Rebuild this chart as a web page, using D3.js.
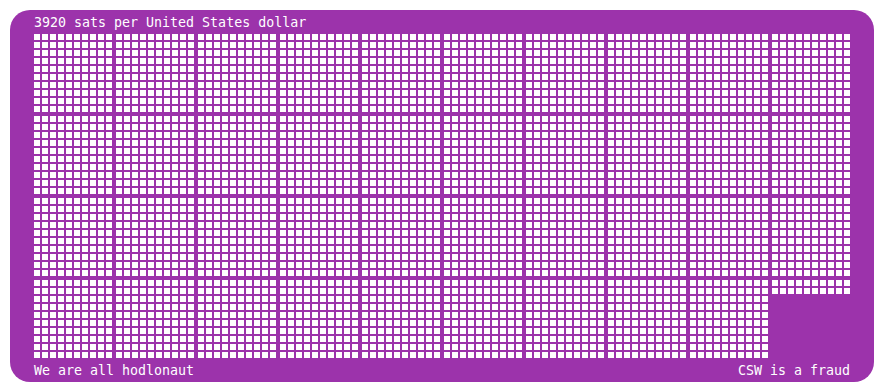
<!DOCTYPE html>
<html>
<head>
<meta charset="utf-8">
<script src="https://cdn.jsdelivr.net/npm/d3@7"></script>
<style>
  body { margin: 0; background: #fff; }
  text { font-family: 'DejaVu Sans Mono', monospace; font-size: 13.3px; fill: #fff; }
</style>
</head>
<body>
<div id="wrapper"></div>
<script>
// sats per dollar, drawn as blocks of 100
const satsPerDollar = [3920];
const blockRowIds = [0, 1, 2, 3];
const blockColIds = [0, 1, 2, 3, 4, 5, 6, 7, 8, 9];
const cellIds = [0, 1, 2, 3, 4, 5, 6, 7, 8, 9];
const titleText = ['3920 sats per United States dollar'];
const footerLeft = ['We are all hodlonaut'];
const footerRight = ['CSW is a fraud'];

function drawSats() {
  let dimensions = {
    width: 884,
    height: 392,
    margins: { top: 34, right: 34, bottom: 34, left: 34 }
  };
  dimensions.boundedWidth = dimensions.width - dimensions.margins.left - dimensions.margins.right;
  dimensions.boundedHeight = 324;

  const wrapper = d3.select('#wrapper')
    .append('svg')
      .attr('width', dimensions.width)
      .attr('height', dimensions.height);

  wrapper.append('rect')
      .attr('x', 10)
      .attr('y', 10)
      .attr('width', dimensions.width - 20)
      .attr('height', dimensions.height - 20)
      .attr('rx', 20)
      .attr('fill', '#9c33ab');

  const bounds = wrapper.append('g')
      .attr('transform', `translate(${dimensions.margins.left},${dimensions.margins.top})`);

  const xBlock = d3.scaleBand()
    .domain(blockColIds)
    .range([0, dimensions.boundedWidth])
    .paddingInner(4 / 82);

  const yBlock = d3.scaleBand()
    .domain(blockRowIds)
    .range([0, dimensions.boundedHeight])
    .paddingInner(4 / 82);

  const cell = d3.scaleBand()
    .domain(cellIds)
    .range([0, xBlock.bandwidth()])
    .paddingInner(0.25);

  const n = satsPerDollar[0];
  const sats = d3.range(n).map(i => {
    const block = Math.floor(i / 100);
    const inBlock = i % 100;
    return {
      bRow: Math.floor(block / blockColIds.length),
      bCol: block % blockColIds.length,
      row: Math.floor(inBlock / cellIds.length),
      col: inBlock % cellIds.length
    };
  });

  bounds.selectAll('rect.sat')
    .data(sats)
    .join('rect')
      .attr('class', 'sat')
      .attr('x', d => xBlock(d.bCol) + cell(d.col))
      .attr('y', d => yBlock(d.bRow) + cell(d.row))
      .attr('width', cell.bandwidth())
      .attr('height', cell.bandwidth())
      .attr('fill', '#fff');

  bounds.append('text')
      .attr('x', 0)
      .attr('y', -7)
      .text(titleText[0]);

  bounds.append('text')
      .attr('x', 0)
      .attr('y', dimensions.boundedHeight + 17)
      .text(footerLeft[0]);

  bounds.append('text')
      .attr('x', dimensions.boundedWidth)
      .attr('y', dimensions.boundedHeight + 17)
      .attr('text-anchor', 'end')
      .text(footerRight[0]);
}

drawSats();
</script>
</body>
</html>
